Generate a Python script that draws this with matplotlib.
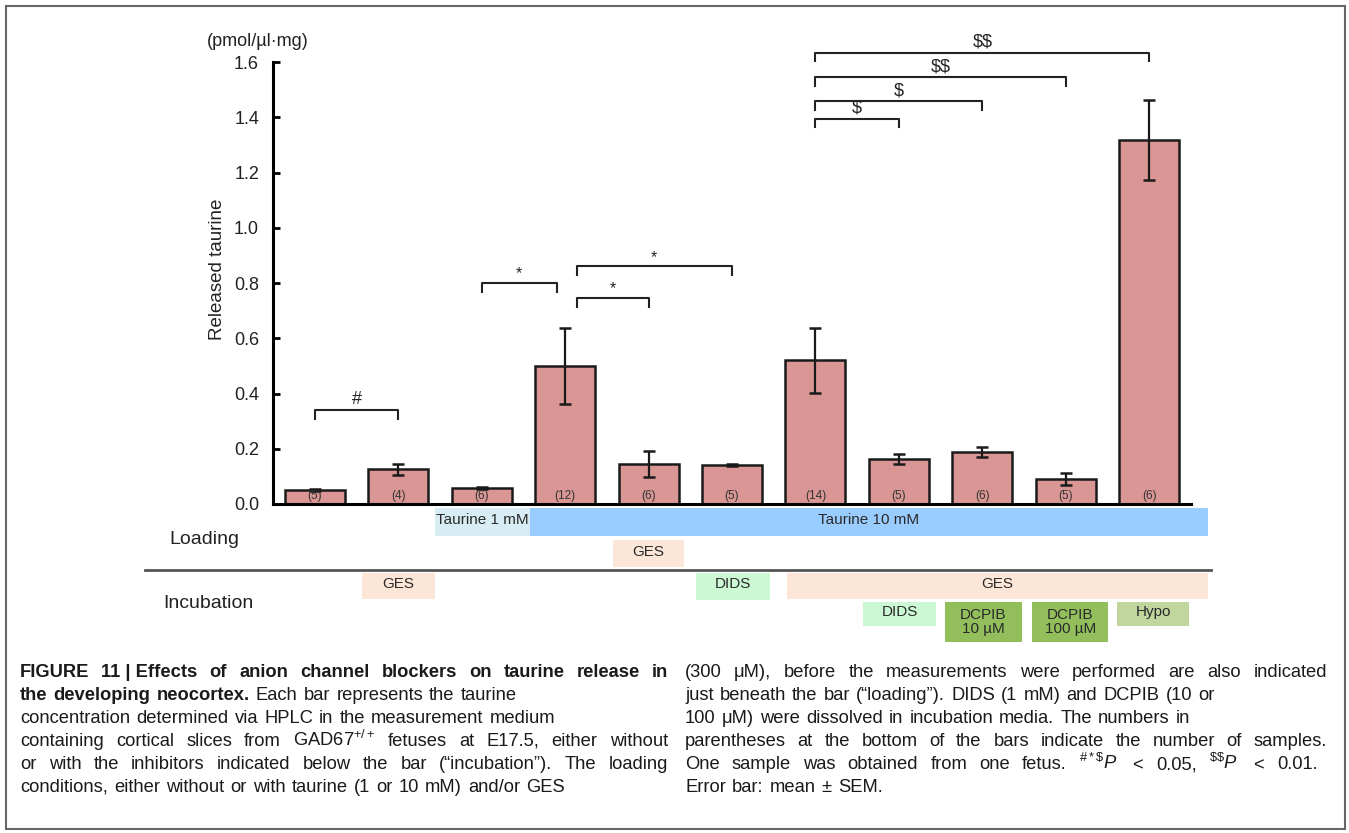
import matplotlib
matplotlib.use("Agg")
import matplotlib.pyplot as plt
from matplotlib.patches import Rectangle
from matplotlib.transforms import blended_transform_factory

plt.rcParams["font.family"] = ["Liberation Sans", "DejaVu Sans"]
plt.rcParams["mathtext.fontset"] = "custom"
plt.rcParams["mathtext.rm"] = "Liberation Sans"
plt.rcParams["mathtext.it"] = "Liberation Sans:italic"
plt.rcParams["mathtext.bf"] = "Liberation Sans:bold"

# ---- data ----
released = [0.052, 0.125, 0.058, 0.50, 0.145, 0.141, 0.52, 0.163, 0.188, 0.091, 1.318]
sem = [0.004, 0.020, 0.003, 0.138, 0.047, 0.005, 0.118, 0.018, 0.018, 0.021, 0.145]
n_samples = [5, 4, 6, 12, 6, 5, 14, 5, 6, 5, 6]
yticks = [0.0, 0.2, 0.4, 0.6, 0.8, 1.0, 1.2, 1.4, 1.6]

bracket_pairs = [(0, 1), (2, 3), (3, 4), (3, 5), (6, 7), (6, 8), (6, 9), (6, 10)]
bracket_heights = [0.34, 0.80, 0.745, 0.86, 1.395, 1.46, 1.547, 1.634]
bracket_marks = ["#", "*", "*", "*", "$", "$", "$$", "$$"]

loading_labels = ["Taurine 1 mM", "Taurine 10 mM", "GES"]
incubation_labels = ["GES", "DIDS", "GES", "DIDS", "DCPIB\n10 µM", "DCPIB\n100 µM", "Hypo"]

NB = "\u00a0"  # keeps a group together when a line is spread out
# (segments, width to spread the line over or None)
caption_left = [
    ([(f"FIGURE 11{NB}|{NB}Effects of anion channel blockers on taurine release in", True)], 648),
    ([("the developing neocortex.", True), ("Each bar represents the taurine", False)], None),
    ([("concentration determined via HPLC in the measurement medium", False)], None),
    ([("containing cortical slices from GAD67$^{+/+}$ fetuses at E17.5, either without", False)], 648),
    ([("or with the inhibitors indicated below the bar (“incubation”). The loading", False)], 648),
    ([("conditions, either without or with taurine (1 or 10 mM) and/or GES", False)], None),
]
caption_right = [
    ([("(300 μM), before the measurements were performed are also indicated", False)], 642),
    ([("just beneath the bar (“loading”). DIDS (1 mM) and DCPIB (10 or", False)], None),
    ([("100 μM) were dissolved in incubation media. The numbers in", False)], None),
    ([("parentheses at the bottom of the bars indicate the number of samples.", False)], 642),
    ([(r"One sample was obtained from one fetus. ${}^{\#*\$}P$ $<$ 0.05, ${}^{\$\$}P$ $<$ 0.01.", False)], 633),
    ([("Error bar: mean ± SEM.", False)], None),
]

# ---- layout (pixels from top-left, bar units for x) ----
W, H = 1349, 833
bar_color = "#d99694"
loading_spans = [(1.44, 2.58), (2.58, 10.70), (3.57, 4.43)]
loading_rows = [(508, 536), (508, 536), (540, 567)]
loading_colors = ["#d8ecf3", "#99ccff", "#fce6d8"]
incubation_spans = [(0.57, 1.44), (4.57, 5.45), (5.66, 10.70), (6.57, 7.45),
                    (7.55, 8.47), (8.60, 9.51), (9.61, 10.48)]
incubation_rows = [(573, 599), (573, 600), (573, 599), (602, 626),
                   (602, 642), (602, 642), (602, 626)]
incubation_colors = ["#fce6d8", "#ccf8d4", "#fce6d8", "#ccf8d4",
                     "#92bf5c", "#92bf5c", "#c0d69c"]


def fx(px):
    return px / W


def fy(py):
    return 1 - py / H


fig = plt.figure(figsize=(W / 100, H / 100), dpi=100)
fig.patches.append(Rectangle((fx(6), fy(829)), fx(1345) - fx(6), fy(6) - fy(829),
                             transform=fig.transFigure, fill=False,
                             edgecolor="#666666", linewidth=1.5))

y0, ytop = 504, 34.4
ax = fig.add_axes([fx(273), fy(y0), fx(1191) - fx(273), (y0 - ytop) / H])
x = list(range(len(released)))
ax.bar(x, released, width=0.72, color=bar_color, edgecolor="#1a1a1a", linewidth=1.8,
       yerr=sem, capsize=4.5,
       error_kw=dict(elinewidth=1.6, capthick=1.8, ecolor="#1a1a1a"), zorder=2)
for i, n in enumerate(n_samples):
    ax.text(i, 0.008, f"({n})", ha="center", va="bottom", fontsize=8.5, color="#333333", zorder=3)

ax.set_xlim(-0.5, 10.5)
ax.set_ylim(0, 1.7)
ax.set_xticks([])
ax.set_yticks(yticks)
ax.set_yticklabels([f"{v:.1f}" for v in yticks])
ax.tick_params(axis="y", direction="in", length=5, width=2, pad=10, labelsize=13,
               labelcolor="#222222")
for s in ["top", "right"]:
    ax.spines[s].set_visible(False)
ax.spines["left"].set_bounds(0, 1.6)
ax.spines["left"].set_linewidth(2.2)
ax.spines["bottom"].set_linewidth(2.2)
ax.set_ylabel("Released taurine", fontsize=13.5, color="#222222", labelpad=6)
fig.text(fx(258), fy(42), "(pmol/µl·mg)", ha="center", va="center", fontsize=13, color="#222222")

# significance brackets
tick_h = 0.032
for (i, j), h, m in zip(bracket_pairs, bracket_heights, bracket_marks):
    left = i + (0.14 if (i == 3) else 0.0)
    right = j - (0.1 if (j == 3) else 0.0)
    ax.plot([left, left, right, right], [h - tick_h, h, h, h - tick_h],
            color="#222222", lw=1.5, clip_on=False, zorder=3)
    ax.text((left + right) / 2, h + 0.006, m, ha="center", va="bottom",
            fontsize=13 if m != "*" else 11.5, color="#222222", parse_math=False)

# loading / incubation boxes
blend = blended_transform_factory(ax.transData, fig.transFigure)


def draw_box(span, row, color, label):
    (a, b), (t, btm) = span, row
    ax.add_patch(Rectangle((a, fy(btm)), b - a, fy(t) - fy(btm), transform=blend,
                           facecolor=color, edgecolor="none", clip_on=False))
    ax.text((a + b) / 2, fy((t + btm) / 2 - 2 if "\n" not in label else (t + btm) / 2),
            label, transform=blend, ha="center", va="center", fontsize=11,
            color="#2a2a2a", linespacing=0.95)


for span, row, col, lab in zip(loading_spans, loading_rows, loading_colors, loading_labels):
    draw_box(span, row, col, lab)
for span, row, col, lab in zip(incubation_spans, incubation_rows, incubation_colors, incubation_labels):
    draw_box(span, row, col, lab)

fig.text(fx(204), fy(540), "Loading", ha="center", va="center", fontsize=14, color="#222222")
fig.text(fx(208), fy(604), "Incubation", ha="center", va="center", fontsize=14, color="#222222")
fig.add_artist(plt.Line2D([fx(145), fx(1211)], [fy(570), fy(570)], transform=fig.transFigure,
                          color="#555555", lw=2))

# caption, set word by word so full lines can be spread to the column width
cap_size = 13.2
renderer = fig.canvas.get_renderer()


def draw_line(segments, x0, base, width):
    words = []
    for text, bold in segments:
        for w in text.split(" "):
            words.append(fig.text(0, fy(base), w, fontsize=cap_size, va="baseline",
                                  fontweight="bold" if bold else "normal", color="#1a1a1a"))
    widths = [t.get_window_extent(renderer).width for t in words]
    if width and len(words) > 1:
        gap = (width - sum(widths)) / (len(words) - 1)
    else:
        gap = 0.278 * cap_size * 100 / 72 * 1.2
    pos = x0
    for t, w in zip(words, widths):
        t.set_x(fx(pos))
        pos += w + gap


for k, (segs, width) in enumerate(caption_left):
    draw_line(segs, 20, 677 + k * 23.0, width)
for k, (segs, width) in enumerate(caption_right):
    draw_line(segs, 685, 677 + k * 23.0, width)

fig.savefig("out.png", dpi=100)
